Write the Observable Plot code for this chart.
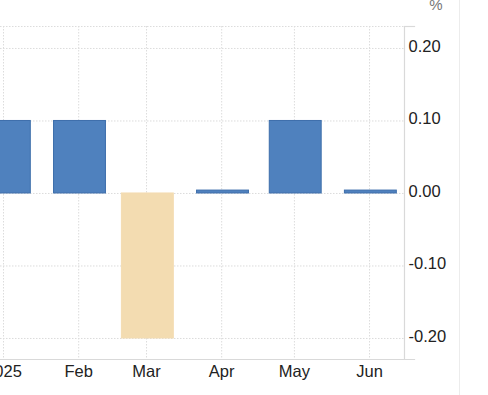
<!DOCTYPE html>
<html>
<head>
<meta charset="utf-8">
<script src="https://cdn.jsdelivr.net/npm/d3@7"></script>
<script src="https://cdn.jsdelivr.net/npm/@observablehq/plot@0.6"></script>
<style>
  html, body { margin: 0; padding: 0; background: #fff; }
  #chart { width: 488px; height: 395px; overflow: hidden; }
</style>
</head>
<body>
<div id="chart"></div>
<script>
// ---- data ----
const months = ["2025-01-01", "2025-02-01", "2025-03-01", "2025-04-01", "2025-05-01", "2025-06-01"];
const monthLabels = ["2025", "Feb", "Mar", "Apr", "May", "Jun"];
const values = [0.1, 0.1, -0.2, 0.004, 0.1, 0.004];
const yTicks = [-0.2, -0.1, 0, 0.1, 0.2];
const unitLabel = "%";

const dates = months.map(s => new Date(s + "T00:00:00Z"));
const data = dates.map((d, i) => ({date: d, value: values[i], label: monthLabels[i]}));
const labelOf = new Map(dates.map((d, i) => [+d, monthLabels[i]]));

const xDomain = [new Date(Date.UTC(2024, 11, 30, 18)), new Date(Date.UTC(2025, 5, 15, 10))];
const yDomain = [-0.229, 0.2303];
const xStub = new Date(Date.UTC(2025, 5, 20, 0));

const grid = "#dcdcdc";
const axisLine = "#d9d9d9";

const chart = Plot.plot({
  width: 488,
  height: 395,
  marginTop: 26,
  marginBottom: 36,
  marginLeft: 0,
  marginRight: 84,
  style: {fontFamily: "'Liberation Sans', Arial, Helvetica, sans-serif", fontSize: "16.5px", background: "#fff", color: "#222"},
  x: {type: "utc", domain: xDomain, axis: null},
  y: {domain: yDomain, axis: null},
  marks: [
    Plot.ruleY(yTicks, {stroke: grid, strokeDasharray: "1.5,1.5", strokeWidth: 1}),
    Plot.ruleY([yDomain[1]], {stroke: grid, strokeDasharray: "1.5,1.5", strokeWidth: 1}),
    Plot.ruleX(dates, {stroke: grid, strokeDasharray: "1.5,1.5", strokeWidth: 1}),
    Plot.rect(data, {
      x1: d => d3.utcHour.offset(d.date, -244),
      x2: d => d3.utcHour.offset(d.date, 270),
      y1: 0,
      y2: "value",
      fill: d => d.value < 0 ? "#f3dcb1" : "#4f81be",
      stroke: d => d.value < 0 ? "#f3dcb1" : "#3d6eab",
      strokeWidth: 1
    }),
    Plot.ruleX([xDomain[1]], {y1: yDomain[0], y2: yDomain[1], stroke: axisLine, strokeWidth: 1.2}),
    Plot.ruleY([yDomain[0]], {x1: xDomain[0], x2: xStub, stroke: axisLine, strokeWidth: 1.2}),
    Plot.ruleY([yDomain[1]], {x1: xDomain[1], x2: xStub, stroke: axisLine, strokeWidth: 1.2}),
    Plot.axisY(yTicks, {anchor: "right", label: null, tickSize: 0, tickPadding: 4, tickFormat: d => d.toFixed(2), fontSize: 16.5, fill: "#222", dy: -2}),
    Plot.axisX(dates, {anchor: "bottom", label: null, tickSize: 0, tickPadding: 6, tickFormat: d => labelOf.get(+d), fontSize: 16.5, fill: "#222"})
  ]
});

const svg = d3.select(chart);
svg.append("line")
  .attr("x1", 459.5).attr("x2", 459.5).attr("y1", 0).attr("y2", 395)
  .attr("stroke", "#ececec").attr("stroke-width", 1);
svg.append("text")
  .attr("x", 436).attr("y", 9.5)
  .attr("text-anchor", "middle")
  .attr("fill", "#777")
  .attr("font-size", 15)
  .text(unitLabel);

document.getElementById("chart").appendChild(chart);
</script>
</body>
</html>
